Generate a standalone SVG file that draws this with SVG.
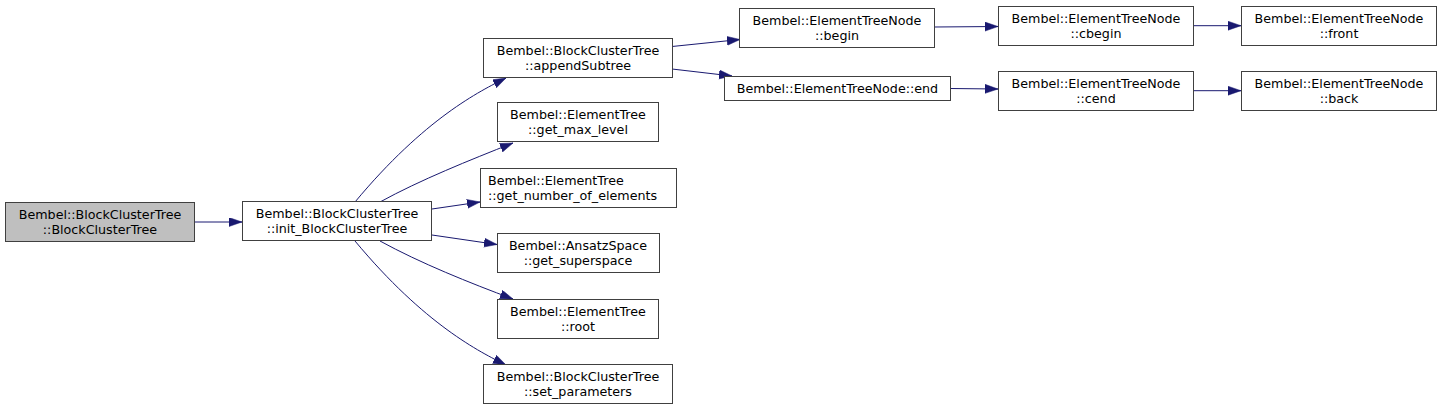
<svg xmlns="http://www.w3.org/2000/svg" width="1441" height="411" viewBox="0 0 1441 411">
<defs>
<marker id="ah" markerUnits="userSpaceOnUse" markerWidth="14" markerHeight="10" refX="13" refY="4.5" orient="auto">
<path d="M0,0 L13,4.5 L0,9 Z" fill="#191970" stroke="#191970" stroke-width="0.5"/>
</marker>
<style>
.n rect{fill:#ffffff;stroke:#404040;stroke-width:1}
.n.g rect{fill:#bfbfbf}
.n text{font-family:"DejaVu Sans",sans-serif;font-size:12.7px;fill:#000;text-anchor:middle}
.n text.l{text-anchor:start}
.e path{fill:none;stroke:#191970;stroke-width:1;marker-end:url(#ah)}
</style>
</defs>
<rect width="1441" height="411" fill="#ffffff"/>
<g id="connectors" class="e">
<path d="M194,222 L242,222"/>
<path d="M355,202 C425,118 480,91 506,78"/>
<path d="M380,202 C420,180 470,160 513,143"/>
<path d="M432,209 L480,202"/>
<path d="M432,235 L497,244.5"/>
<path d="M380,241 C420,263 470,283 513,299"/>
<path d="M355,241 C425,325 480,352 506,365"/>
<path d="M672,46.5 L740,39.5"/>
<path d="M672,69 L732,76"/>
<path d="M934,27 L998,26.5"/>
<path d="M950,88.5 L998,89"/>
<path d="M1193,25.7 L1241,25.7"/>
<path d="M1193,90.7 L1241,90.7"/>
</g>
<g id="n1" class="n g"><rect x="5.5" y="202.5" width="189" height="39"/><text x="100" y="219">Bembel::BlockClusterTree</text><text x="100" y="233.5">::BlockClusterTree</text></g>
<g id="n2" class="n"><rect x="242.5" y="201.5" width="189" height="39"/><text x="337" y="218">Bembel::BlockClusterTree</text><text x="337" y="232.5">::init_BlockClusterTree</text></g>
<g id="n3" class="n"><rect x="483.5" y="38.5" width="189" height="39"/><text x="578" y="55">Bembel::BlockClusterTree</text><text x="578" y="69.5">::appendSubtree</text></g>
<g id="n4" class="n"><rect x="497.5" y="102.5" width="161" height="39"/><text x="578" y="119">Bembel::ElementTree</text><text x="578" y="133.5">::get_max_level</text></g>
<g id="n5" class="n"><rect x="480.5" y="168.5" width="196" height="39"/><text class="l" x="488" y="185">Bembel::ElementTree</text><text class="l" x="488" y="199.5">::get_number_of_elements</text></g>
<g id="n6" class="n"><rect x="497.5" y="233.5" width="162" height="39"/><text x="578" y="250">Bembel::AnsatzSpace</text><text x="578" y="264.5">::get_superspace</text></g>
<g id="n7" class="n"><rect x="497.5" y="299.5" width="161" height="39"/><text x="578" y="316">Bembel::ElementTree</text><text x="578" y="330.5">::root</text></g>
<g id="n8" class="n"><rect x="483.5" y="364.5" width="189" height="39"/><text x="578" y="381">Bembel::BlockClusterTree</text><text x="578" y="395.5">::set_parameters</text></g>
<g id="n9" class="n"><rect x="739.5" y="8.5" width="195" height="39"/><text x="837" y="25">Bembel::ElementTreeNode</text><text x="837" y="39.5">::begin</text></g>
<g id="n10" class="n"><rect x="724.5" y="76.5" width="226" height="24"/><text x="837.5" y="93">Bembel::ElementTreeNode::end</text></g>
<g id="n11" class="n"><rect x="998.5" y="6.5" width="195" height="39"/><text x="1096" y="23">Bembel::ElementTreeNode</text><text x="1096" y="37.5">::cbegin</text></g>
<g id="n12" class="n"><rect x="998.5" y="71.5" width="195" height="39"/><text x="1096" y="88">Bembel::ElementTreeNode</text><text x="1096" y="102.5">::cend</text></g>
<g id="n13" class="n"><rect x="1241.5" y="6.5" width="195" height="39"/><text x="1339" y="23">Bembel::ElementTreeNode</text><text x="1339" y="37.5">::front</text></g>
<g id="n14" class="n"><rect x="1241.5" y="71.5" width="195" height="39"/><text x="1339" y="88">Bembel::ElementTreeNode</text><text x="1339" y="102.5">::back</text></g>
</svg>
